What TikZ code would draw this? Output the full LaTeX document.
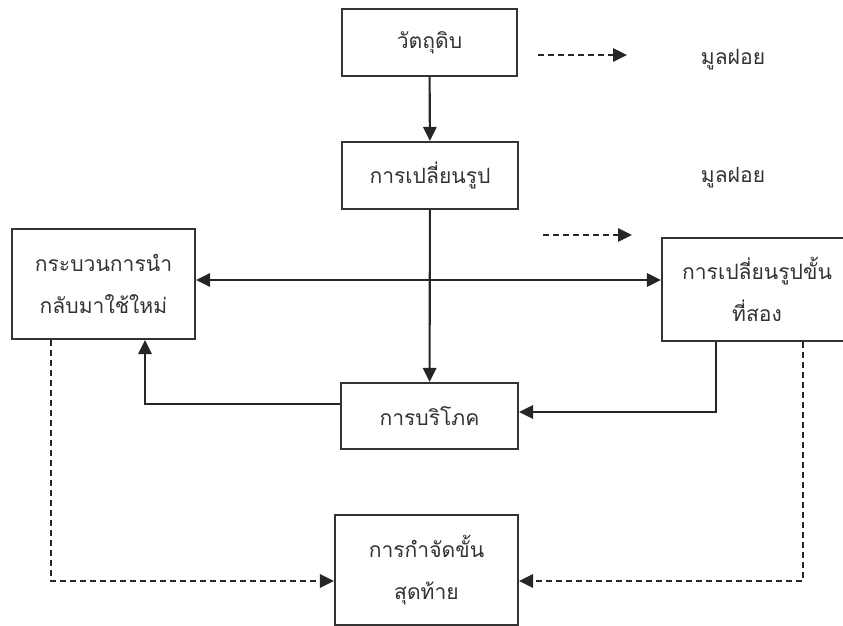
\documentclass[tikz,border=0pt]{standalone}
\usepackage{fontspec}
\newfontfamily\thaifont[Script=Thai]{Loma}
\usetikzlibrary{arrows.meta,positioning}

\begin{document}
\begin{tikzpicture}[
    x=0.03cm, y=-0.03cm,
    box/.style={draw=black!80, line width=1.8pt, rectangle, fill=white, align=center, font=\thaifont\fontsize{18}{36}\selectfont, text=black!80, inner sep=2pt},
    label/.style={font=\thaifont\fontsize{18}{22}\selectfont, text=black!80},
    arrow/.style={-{Triangle[length=0.42cm, width=0.4cm]}, line width=1.8pt, draw=black!85},
    twoway/.style={{Triangle[length=0.42cm, width=0.4cm]}-{Triangle[length=0.42cm, width=0.4cm]}, line width=1.8pt, draw=black!85},
    dasharrow/.style={-{Triangle[length=0.42cm, width=0.4cm]}, line width=1.8pt, draw=black!85, dash pattern=on 0.18cm off 0.12cm}
]
  \useasboundingbox (0,0) rectangle (843,626);

  % Nodes
  \node (raw) [box, minimum width=5.25cm, minimum height=2.01cm] at (429.5,42.5) {วัตถุดิบ};
  \node (shape) [box, minimum width=5.28cm, minimum height=2.01cm] at (430,175.5) {การเปลี่ยนรูป};
  \node (recycle) [box, minimum width=5.49cm, minimum height=3.3cm] at (103.5,284) {กระบวนการนำ\\กลับมาใช้ใหม่};
  \node (second) [box, minimum width=5.7cm, minimum height=3.09cm] at (757,289.5) {การเปลี่ยนรูปขั้น\\ที่สอง};
  \node (consume) [box, minimum width=5.31cm, minimum height=1.98cm] at (429.5,416) {การบริโภค};
  \node (final) [box, minimum width=5.49cm, minimum height=3.3cm] at (426.5,570) {การกำจัดขั้น\\สุดท้าย};

  \node (waste1) [label] at (733,60) {มูลฝอย};
  \node (waste2) [label] at (733,178) {มูลฝอย};

  \coordinate (hub) at (429,280);
  \coordinate (w1a) at (538,55);
  \coordinate (w1b) at (627,55);
  \coordinate (w2a) at (543,235);
  \coordinate (w2b) at (632,235);

  % Arrows
  \draw [arrow] (raw) -- (shape);
  \draw [arrow] (shape) -- (consume);
  \draw [twoway] (recycle.east |- hub) -- (second.west |- hub);
  \draw [arrow] ([yshift=0.36cm]consume.west) -| ([xshift=1.245cm]recycle.south);
  \draw [arrow] ([xshift=-1.23cm]second.south) |- ([yshift=0.12cm]consume.east);

  \draw [dasharrow] ([xshift=-1.575cm]recycle.south) |- ([yshift=-0.33cm]final.west);
  \draw [dasharrow] ([xshift=1.38cm]second.south) |- ([yshift=-0.33cm]final.east);

  \draw [dasharrow] (w1a) -- (w1b);
  \draw [dasharrow] (w2a) -- (w2b);

\end{tikzpicture}
\end{document}
